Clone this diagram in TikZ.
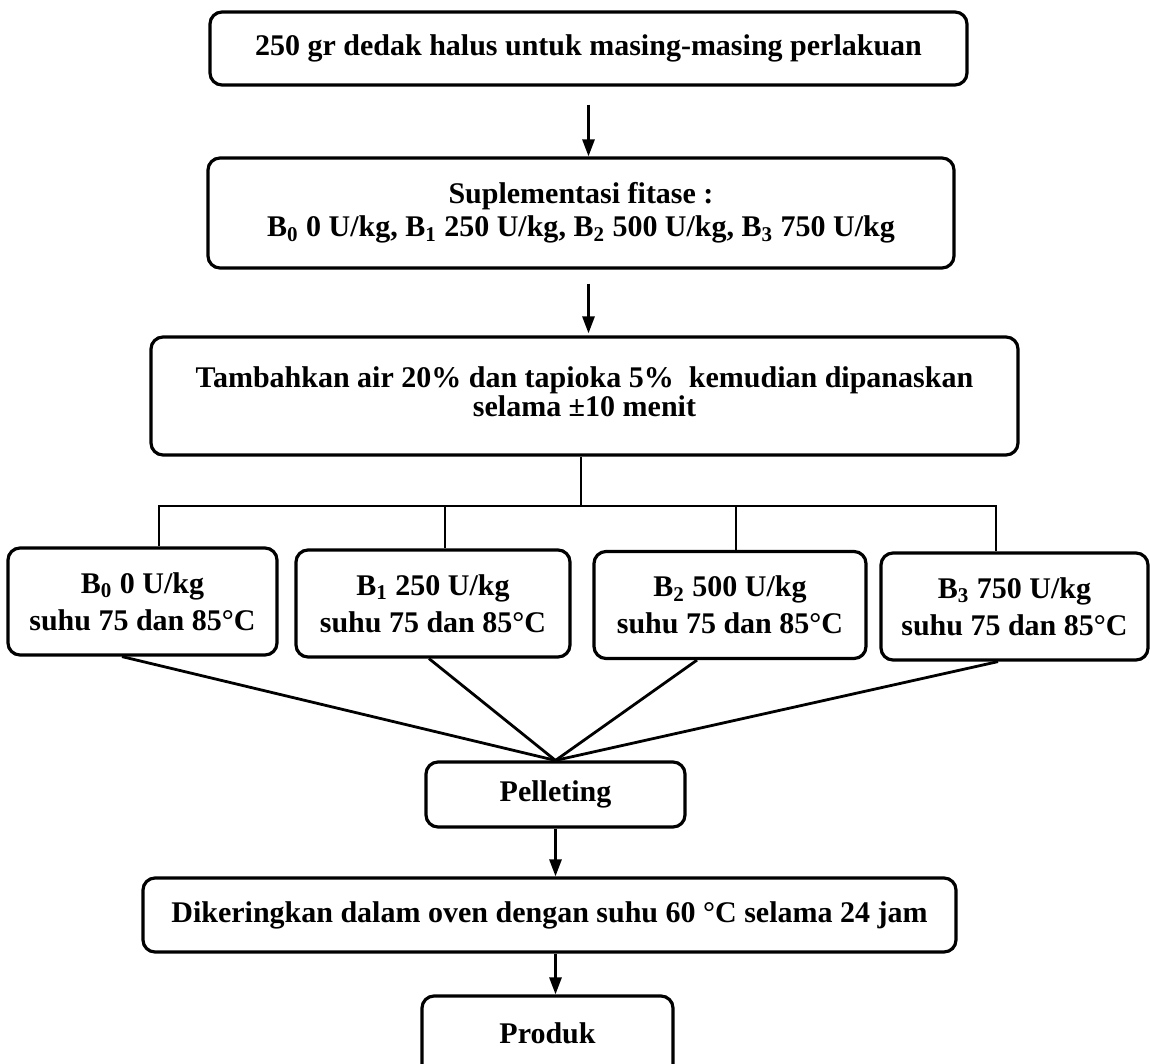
\documentclass[tikz,border=0pt]{standalone}
\usepackage{fontspec}
\setmainfont{Liberation Serif}
\usetikzlibrary{arrows.meta}
\begin{document}
\begin{tikzpicture}[x=0.5pt,y=-0.5pt,
  box/.style={draw, line width=1.6pt, rounded corners=6pt, align=center, inner sep=0pt,
    font=\fontsize{15}{17}\selectfont\bfseries},
  conn/.style={line width=1.4pt},
  arr/.style={conn, -{Triangle[length=8.5pt,width=6pt]}}]
\useasboundingbox (0,0) rectangle (1150,1064);

% main boxes
\node[box, minimum width=378.5pt, minimum height=36.5pt] (n1) at (588.5,48.5)
  {250 gr dedak halus untuk masing-masing perlakuan};
\node[box, minimum width=373pt, minimum height=55pt, font=\fontsize{15}{16.5}\selectfont\bfseries] (n2) at (581,213)
  {Suplementasi fitase :\\ B\textsubscript{0} 0 U/kg, B\textsubscript{1} 250 U/kg, B\textsubscript{2} 500 U/kg, B\textsubscript{3} 750 U/kg};
\node[box, minimum width=433.5pt, minimum height=59pt, font=\fontsize{15}{14}\selectfont\bfseries] (n3) at (584.5,396)
  {\raisebox{7pt}{\begin{tabular}{@{}c@{}}Tambahkan air 20\% dan tapioka 5\%\ \ kemudian dipanaskan\\ selama ±10 menit\end{tabular}}};

% row boxes
\tikzset{rowbox/.style={box, minimum height=53.5pt, font=\fontsize{15}{18.5}\selectfont\bfseries}}
\node[rowbox, minimum width=134.5pt] (b0) at (142.5,601.5) {B\textsubscript{0} 0 U/kg\\ suhu 75 dan 85°C};
\node[rowbox, minimum width=137pt] (b1) at (433,603.5) {B\textsubscript{1} 250 U/kg\\ suhu 75 dan 85°C};
\node[rowbox, minimum width=136pt] (b2) at (730,605) {B\textsubscript{2} 500 U/kg\\ suhu 75 dan 85°C};
\node[rowbox, minimum width=133.5pt] (b3) at (1014.5,606.5) {B\textsubscript{3} 750 U/kg\\ suhu 75 dan 85°C};

% lower boxes
\node[box, minimum width=129.5pt, minimum height=32.5pt] (pel) at (555.5,794.5) {Pelleting};
\node[box, minimum width=406.5pt, minimum height=37pt] (dik) at (549.5,915)
  {Dikeringkan dalam oven dengan suhu 60 °C selama 24 jam};
\node[box, minimum width=125.5pt, minimum height=42pt] (prod) at (547.5,1038) {\raisebox{5pt}{Produk}};

% arrows at top
\draw[arr, shorten <=9pt] (n1.south) -- (n1.south |- n2.north);
\draw[arr, shorten <=7pt, shorten >=1pt] (n2.south -| n1.south) -- (n1.south |- n3.north);

% branching
\coordinate (jn) at (581,506);
\coordinate (d0) at (159,506);
\coordinate (d1) at (445,506);
\coordinate (d2) at (736,506);
\coordinate (d3) at (996,506);
\draw[conn] (n3.south -| jn) -- (jn);
\draw[conn, line join=miter] (d0 |- b0.north) -- (d0) -- (d3) -- (d3 |- b3.north);
\draw[conn] (d1) -- (d1 |- b1.north);
\draw[conn] (d2) -- (d2 |- b2.north);

% converging lines
\coordinate (f0) at (122,0);
\coordinate (f1) at (429,0);
\coordinate (f2) at (697,0);
\coordinate (f3) at (998,0);
\draw[conn] (b0.south -| f0) -- (pel.north);
\draw[conn] (b1.south -| f1) -- (pel.north);
\draw[conn] (b2.south -| f2) -- (pel.north);
\draw[conn] (b3.south -| f3) -- (pel.north);

% bottom arrows
\draw[arr] (pel.south) -- (pel.south |- dik.north);
\draw[arr] (dik.south -| pel.south) -- (pel.south |- prod.north);
\end{tikzpicture}
\end{document}
